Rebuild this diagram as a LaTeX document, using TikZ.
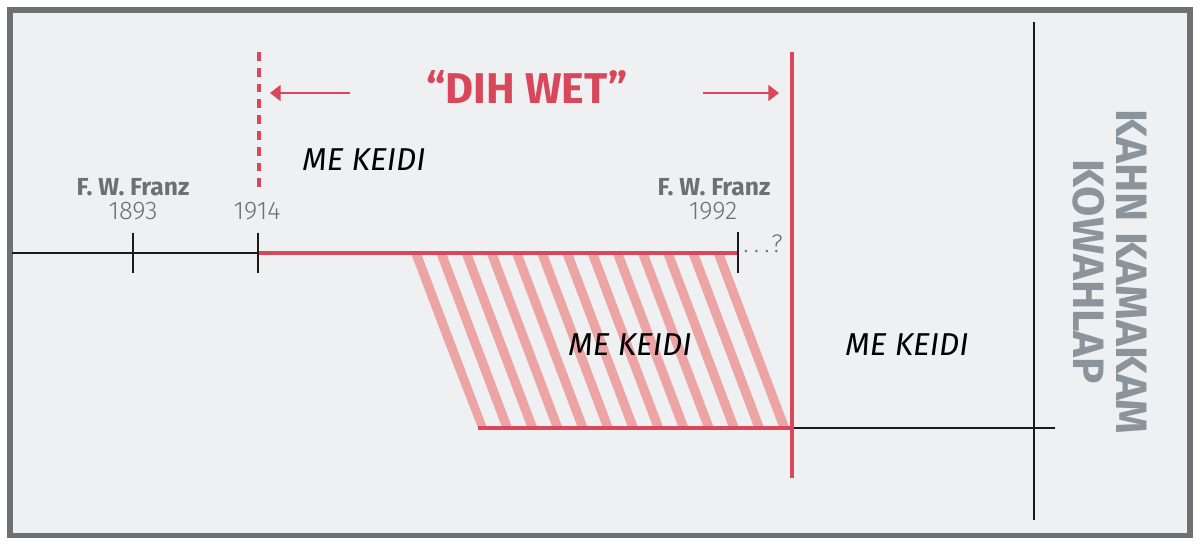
\documentclass[tikz,border=0pt]{standalone}
\usepackage{fontspec}
\setmainfont{Fira Sans}
\IfFontExistsTF{Fira Sans Light}{\newfontfamily\lightfont{Fira Sans Light}}{\newcommand\lightfont{}}
\usetikzlibrary{positioning}
\usetikzlibrary{arrows.meta}
\usepackage{xcolor}
\definecolor{bgpaper}{HTML}{EFF0F2}
\definecolor{framegray}{HTML}{6E7173}
\definecolor{wetred}{HTML}{D8475A}
\definecolor{stripepink}{HTML}{EDA4A4}
\definecolor{labelgray}{HTML}{6B7074}
\definecolor{sidegray}{HTML}{8C949B}
\definecolor{inkblack}{HTML}{1A1A1A}

\tikzset{
  era/.style={font=\fontsize{18}{20}\selectfont\itshape, text=black},
  who/.style={font=\fontsize{14}{16}\selectfont\bfseries, text=labelgray},
  yr/.style={font=\lightfont\fontsize{14.5}{16}\selectfont, text=labelgray},
  timeline/.style={line width=1.4pt, draw=inkblack},
  redline/.style={line width=2.2pt, draw=wetred},
  redarrow/.style={-{Triangle[length=6pt,width=9pt]}, line width=1.1pt, draw=wetred, fill=wetred},
}

\begin{document}
\begin{tikzpicture}[x=0.02cm, y=-0.02cm]
    \useasboundingbox (0,0) rectangle (1200,547);
    % Frame
    \draw[fill=bgpaper, draw=framegray, line width=2.9pt] (10,10) rectangle (1190,535.5);

    % Hatching
    \begin{scope}
      \clip (410,253) -- (730,253) -- (792,428) -- (478,428) -- cycle;
      \foreach \k in {0,...,12}
        \draw[stripepink, line width=5.3pt] (416+25.2*\k-8, 232) -- ++(82,217);
    \end{scope}

    % Points
    \coordinate (start) at (12,253);
    \coordinate (y1893) at (133,253);
    \coordinate (y1914) at (258,253);
    \coordinate (y1992) at (738,253);
    \coordinate (lowstart) at (478,428);
    \coordinate (cross) at (792,428);
    \coordinate (lowend) at (1055,428);
    \coordinate (wettop) at (792,52);
    \coordinate (wetbot) at (792,478);
    \coordinate (dashtop) at (259,52);
    \coordinate (dashbot) at (259,193);
    \coordinate (linetop) at (1034,22);
    \coordinate (linebot) at (1034,520);
    \coordinate (leftfrom) at (350,93);
    \coordinate (lefttip) at (270,93);
    \coordinate (rightfrom) at (703,93);
    \coordinate (righttip) at (779,93);

    % Lines
    \draw[timeline] (start) -- (y1914);
    \draw[redline] (y1914) -- (y1992);
    \draw[timeline] (y1893) ++(0,-20) -- ++(0,40);
    \draw[timeline] (y1914) ++(0,-20) -- ++(0,40);
    \draw[timeline] (y1992) ++(0,-21) -- ++(0,41);
    \draw[redline, line width=2.4pt] (lowstart) -- (cross);
    \draw[timeline] (cross) -- (lowend);
    \draw[timeline] (linetop) -- (linebot);
    \draw[redline] (wettop) -- (wetbot);
    \draw[redline, line width=2.3pt, dash pattern=on 5pt off 4pt] (dashtop) -- (dashbot);
    \draw[redarrow] (leftfrom) -- (lefttip);
    \draw[redarrow] (rightfrom) -- (righttip);

    % Labels
    \node[text=wetred, font=\fontsize{24.5}{26}\selectfont\bfseries] (wet) at (527,87) {“DIH WET”};
    \node[era] (era1) at (364,160) {ME KEIDI};
    \node[era] (era2) at (630,345) {ME KEIDI};
    \node[era] (era3) at (907,345) {ME KEIDI};
    \node[who] (franz1) at (133,187) {F. W. Franz};
    \node[yr] (birth) at (133,211) {1893};
    \node[yr] (start1914) at (257,211) {1914};
    \node[who] (franz2) at (714,187) {F. W. Franz};
    \node[yr] (death) at (713,211) {1992};
    \node[yr, anchor=west, inner sep=0pt] (unknown) at (743,244) {.\hspace{3pt}.\hspace{3pt}.\hspace{1pt}?};
    \node[rotate=-90, align=center, text=sidegray, font=\fontsize{25}{24.5}\selectfont\bfseries] (side) at (1110,272) {KAHN KAMAKAM\\KOWAHLAP};
\end{tikzpicture}
\end{document}
